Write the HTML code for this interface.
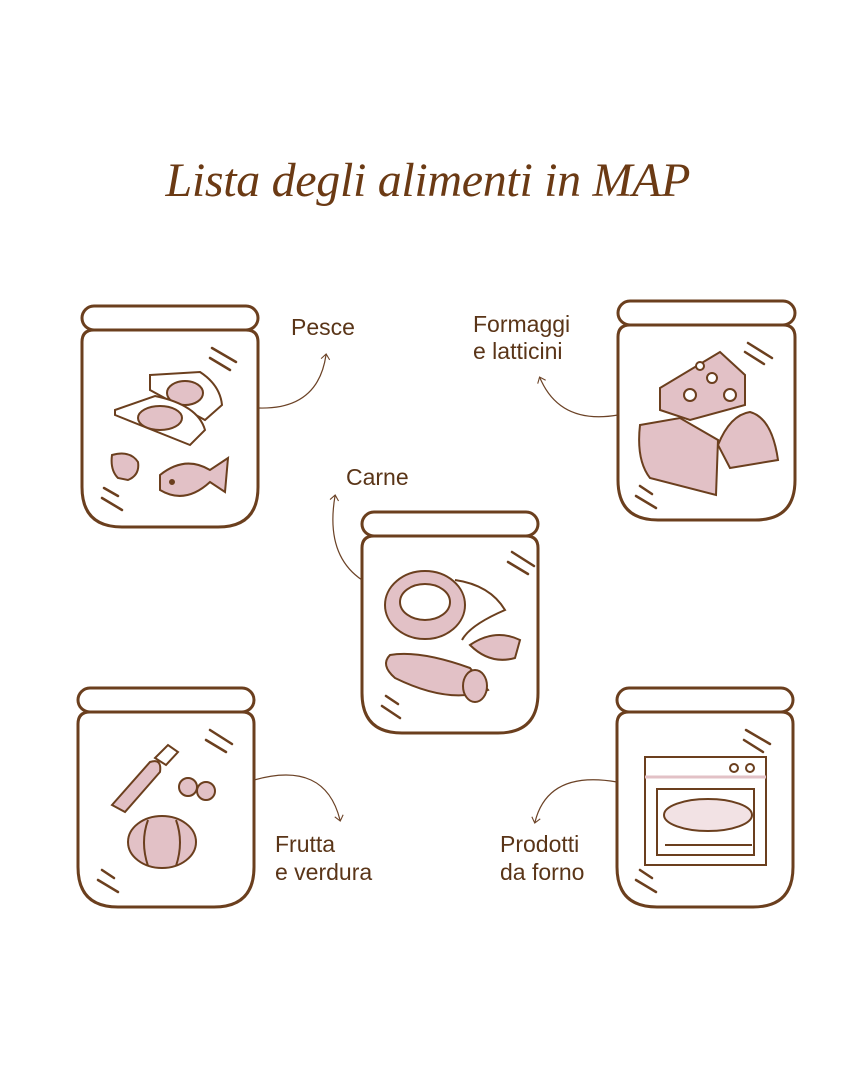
<!DOCTYPE html>
<html><head><meta charset="utf-8"><style>
html,body{margin:0;padding:0;background:#fff;}
svg{display:block}
text{font-family:"Liberation Sans",sans-serif;fill:#5a3518;}
</style></head><body>
<svg width="864" height="1080" viewBox="0 0 864 1080" xmlns="http://www.w3.org/2000/svg">
<defs>
<marker id="ah" viewBox="0 0 10 10" refX="5" refY="5" markerWidth="9" markerHeight="9" orient="auto-start-reverse">
<path d="M1,1 L6,5 L1,9" fill="none" stroke="#6b4226" stroke-width="1"/>
</marker>
</defs>
<text x="428" y="196" text-anchor="middle" textLength="525" style="font-family:'Liberation Serif',serif;font-style:italic;font-size:48px;fill:#6b3a14;">Lista degli alimenti in MAP</text>

<g fill="none" stroke="#6b3f1e" stroke-width="3">
<rect x="82" y="306" width="176" height="24" rx="12"/>
<path d="M82,342 Q82,330 94,330 H246 Q258,330 258,342 V487 Q258,527 218,527 H122 Q82,527 82,487 Z"/>
<rect x="618" y="301" width="177" height="24" rx="12"/>
<path d="M618,337 Q618,325 630,325 H783 Q795,325 795,337 V480 Q795,520 755,520 H658 Q618,520 618,480 Z"/>
<rect x="362" y="512" width="176" height="24" rx="12"/>
<path d="M362,548 Q362,536 374,536 H526 Q538,536 538,548 V693 Q538,733 498,733 H402 Q362,733 362,693 Z"/>
<rect x="78" y="688" width="176" height="24" rx="12"/>
<path d="M78,724 Q78,712 90,712 H242 Q254,712 254,724 V867 Q254,907 214,907 H118 Q78,907 78,867 Z"/>
<rect x="617" y="688" width="176" height="24" rx="12"/>
<path d="M617,724 Q617,712 629,712 H781 Q793,712 793,724 V867 Q793,907 753,907 H657 Q617,907 617,867 Z"/>
</g>

<g stroke="#6b3f1e" stroke-width="2.5" stroke-linecap="round">
<path d="M212,348 L236,362 M210,358 L230,370 M102,498 L122,510 M104,488 L118,496"/>
<path d="M748,343 L772,358 M745,352 L764,364 M636,496 L656,508 M640,486 L652,494"/>
<path d="M512,552 L534,566 M508,562 L528,574 M382,706 L400,718 M386,696 L398,704"/>
<path d="M210,730 L232,744 M206,740 L226,752 M98,880 L118,892 M102,870 L114,878"/>
<path d="M746,730 L770,744 M744,740 L763,752 M636,880 L656,892 M640,870 L652,878"/>
</g>

<g stroke="#6b3f1e" stroke-width="2" fill="#e2c1c6">
<path d="M150,375 L200,372 Q220,385 222,405 L205,420 L150,390 Z" fill="#fff"/>
<ellipse cx="185" cy="393" rx="18" ry="12"/>
<path d="M115,410 L155,396 Q198,405 205,430 L190,445 L115,415 Z" fill="#fff"/>
<ellipse cx="160" cy="418" rx="22" ry="12"/>
<path d="M160,475 Q185,455 210,470 L228,458 L225,492 L210,482 Q185,505 160,490 Z"/>
<circle cx="172" cy="482" r="2" fill="#6b3f1e"/>
<path d="M112,455 Q130,450 138,462 Q140,475 128,480 L118,478 Q110,470 112,455 Z"/>
</g>
<g stroke="#6b3f1e" stroke-width="2" fill="#fff">
<path d="M660,388 L720,352 L745,375 L745,405 L690,420 L660,410 Z" fill="#e2c1c6"/>
<circle cx="690" cy="395" r="6"/><circle cx="712" cy="378" r="5"/><circle cx="730" cy="395" r="6"/><circle cx="700" cy="366" r="4"/>
<path d="M640,425 L680,418 L718,440 L716,495 L650,478 Q636,460 640,425 Z" fill="#e2c1c6"/>
<path d="M718,445 Q730,415 750,412 Q772,418 778,460 L730,468 Z" fill="#e2c1c6"/>
</g>
<g stroke="#6b3f1e" stroke-width="2" fill="#e2c1c6">
<ellipse cx="425" cy="605" rx="40" ry="34"/>
<ellipse cx="425" cy="602" rx="25" ry="18" fill="#fff"/>
<path d="M455,580 Q490,585 505,610 Q470,625 462,640" fill="none"/>
<path d="M390,655 Q420,650 470,668 L488,690 Q450,705 395,678 Q380,665 390,655 Z"/>
<ellipse cx="475" cy="686" rx="12" ry="16"/>
<path d="M470,645 Q495,628 520,640 L515,658 Q490,665 470,645 Z"/>
</g>
<g stroke="#6b3f1e" stroke-width="2" fill="#e2c1c6">
<path d="M112,805 L150,762 Q162,758 160,772 L125,812 Z"/>
<path d="M155,758 L168,745 L178,752 L166,765 Z" fill="#fff"/>
<circle cx="188" cy="787" r="9"/><circle cx="206" cy="791" r="9"/>
<ellipse cx="162" cy="842" rx="34" ry="26"/>
<path d="M148,820 Q140,842 148,866 M176,820 Q184,842 176,866" fill="none"/>
</g>
<g stroke="#6b3f1e" stroke-width="2" fill="none">
<rect x="645" y="757" width="121" height="108"/>
<line x1="645" y1="777" x2="766" y2="777" stroke="#e2c1c6" stroke-width="3"/>
<circle cx="734" cy="768" r="4"/><circle cx="750" cy="768" r="4"/>
<rect x="657" y="789" width="97" height="66"/>
<ellipse cx="708" cy="815" rx="44" ry="16" fill="#f2e2e4"/>
<line x1="665" y1="845" x2="752" y2="845"/>
</g>

<g fill="none" stroke="#6b4226" stroke-width="1.2">
<path d="M258,408 Q318,410 326,355" marker-end="url(#ah)"/>
<path d="M618,415 Q560,425 540,378" marker-end="url(#ah)"/>
<path d="M362,580 Q325,555 335,496" marker-end="url(#ah)"/>
<path d="M254,780 Q325,760 340,820" marker-end="url(#ah)"/>
<path d="M617,782 Q548,770 535,822" marker-end="url(#ah)"/>
</g>

<g font-size="23">
<text x="291" y="335">Pesce</text>
<text x="473" y="332">Formaggi</text>
<text x="473" y="359">e latticini</text>
<text x="346" y="485">Carne</text>
<text x="275" y="852">Frutta</text>
<text x="275" y="880">e verdura</text>
<text x="500" y="852">Prodotti</text>
<text x="500" y="880">da forno</text>
</g>
</svg>
</body></html>
